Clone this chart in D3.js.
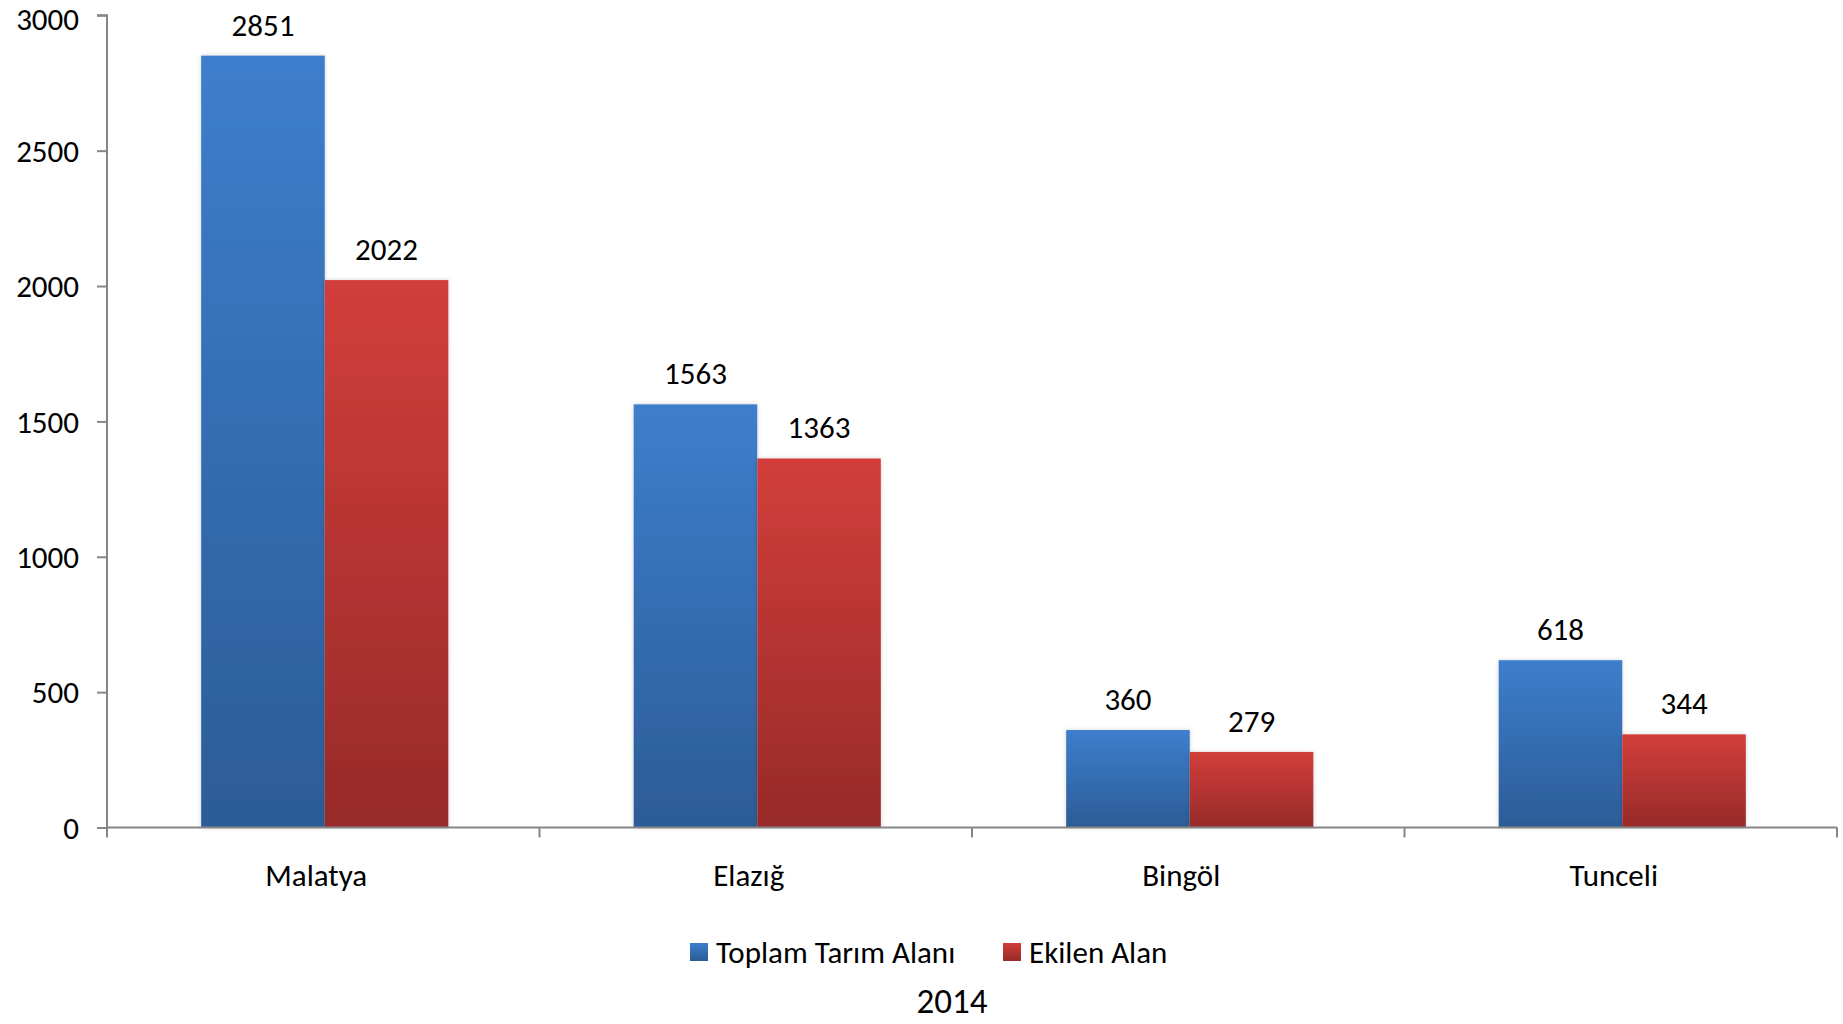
<!DOCTYPE html>
<html><head><meta charset="utf-8">
<script src="https://cdn.jsdelivr.net/npm/d3@7"></script>
<style>
body{margin:0;background:#fff;}
svg text{font-family:Carlito,Lato,"Open Sans",sans-serif;fill:#000;}
</style></head>
<body>
<svg id="c" width="1843" height="1024"></svg>
<script>
const categories = ["Malatya","Elazığ","Bingöl","Tunceli"];
const seriesNames = ["Toplam Tarım Alanı","Ekilen Alan"];
const toplam = [2851,1563,360,618];
const ekilen = [2022,1363,279,344];
const yTicks = [0,500,1000,1500,2000,2500,3000];
const title = "2014";

const svg = d3.select("#c");
const m = {left:107, right:1837, top:15.3, bottom:827.5};
const x = d3.scaleBand().domain(categories).range([m.left,m.right]).paddingInner(0).paddingOuter(0);
const y = d3.scaleLinear().domain([0,3000]).range([m.bottom,m.top]);

const defs = svg.append("defs");
const grads = [["gBlue","#3D7ECC","#2C5C97"],["gRed","#D23E3A","#972A29"]];
grads.forEach(([id,c1,c2])=>{
  const g = defs.append("linearGradient").attr("id",id).attr("x1",0).attr("y1",0).attr("x2",0).attr("y2",1);
  g.append("stop").attr("offset","0%").attr("stop-color",c1);
  g.append("stop").attr("offset","100%").attr("stop-color",c2);
});
const f = defs.append("filter").attr("id","sh").attr("x","-10%").attr("y","-10%").attr("width","120%").attr("height","120%");
f.append("feDropShadow").attr("dx",0).attr("dy",0).attr("stdDeviation",2).attr("flood-color","#000").attr("flood-opacity",0.18);

const barW = x.bandwidth()/3.5;
const gap = x.bandwidth()*0.75/3.5 + 1.5;

const data = [];
categories.forEach((c,i)=>{
  [toplam[i],ekilen[i]].forEach((v,s)=>data.push({c,v,s}));
});

const fs = 31;
// y axis
const yAxis = d3.axisLeft(y).tickValues(yTicks).tickSize(10).tickPadding(18).tickFormat(d3.format("d"));
const gy = svg.append("g").attr("transform",`translate(${m.left},0)`).call(yAxis);
gy.select(".domain").attr("stroke","#868686").attr("stroke-width",2).attr("d",`M-10,${m.top}H0V${m.bottom}`);
gy.selectAll(".tick line").attr("stroke","#868686").attr("stroke-width",2);
gy.selectAll(".tick text").style("font-size",fs+"px").attr("dy","0.35em")
  .filter(d=>d===3000).attr("dy","0.45em");

// bars
svg.append("g").selectAll("rect").data(data).join("rect")
  .attr("x",d=>x(d.c)+gap+d.s*barW)
  .attr("y",d=>y(d.v))
  .attr("width",barW)
  .attr("height",d=>y(0)-y(d.v))
  .attr("fill",d=>d.s===0?"url(#gBlue)":"url(#gRed)")
  .attr("filter","url(#sh)");

// value labels
svg.append("g").selectAll("text").data(data).join("text")
  .attr("x",d=>x(d.c)+gap+d.s*barW+barW/2)
  .attr("y",d=>y(d.v)-20)
  .attr("text-anchor","middle")
  .style("font-size",fs+"px")
  .text(d=>d.v);

// x axis
const xAxis = d3.axisBottom(x).tickSize(0).tickPadding(36);
const gx = svg.append("g").attr("transform",`translate(0,${m.bottom})`).call(xAxis);
gx.select(".domain").attr("stroke","#868686").attr("stroke-width",2).attr("d",`M${m.left},0H${m.right}`);
gx.selectAll(".tick text").style("font-size",fs+"px").attr("dx",-7);
const bounds = categories.map(c=>x(c)).concat([m.right]);
gx.selectAll(".sep").data(bounds).join("line").attr("class","sep")
  .attr("x1",d=>d).attr("x2",d=>d).attr("y1",0).attr("y2",10)
  .attr("stroke","#868686").attr("stroke-width",2);

// legend
const leg = svg.append("g");
const legItems = [{n:seriesNames[0],g:"url(#gBlue)",x:690},{n:seriesNames[1],g:"url(#gRed)",x:1003}];
legItems.forEach(it=>{
  leg.append("rect").attr("x",it.x).attr("y",943).attr("width",18).attr("height",18).attr("fill",it.g);
  leg.append("text").attr("x",it.x+26).attr("y",952).attr("dy","0.35em").style("font-size",fs+"px").text(it.n);
});

// title
svg.append("text").attr("x",952).attr("y",1001).attr("dy","0.35em").attr("text-anchor","middle")
  .style("font-size","35px").text(title);
</script>
</body></html>
